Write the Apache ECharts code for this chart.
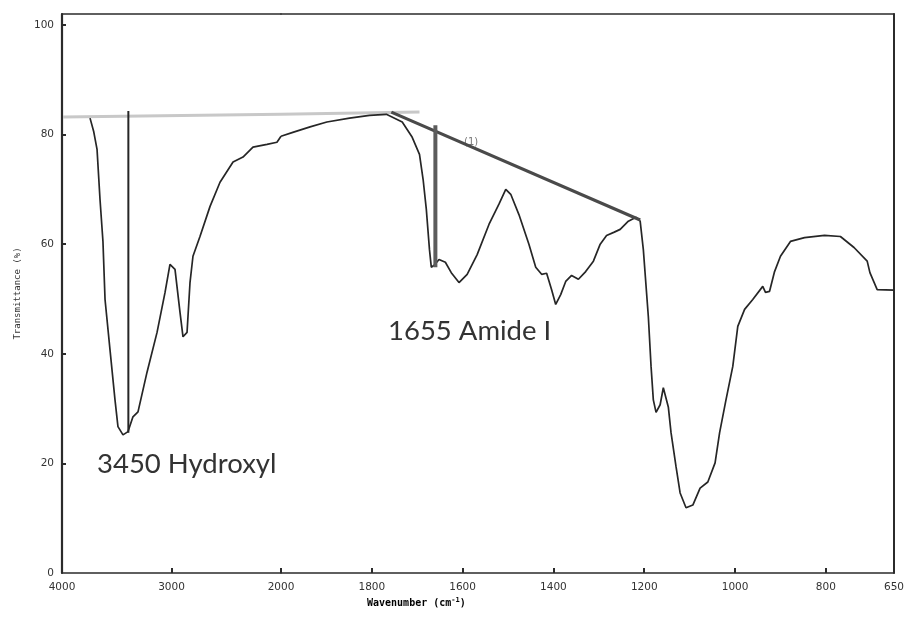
<!DOCTYPE html>
<html><head><meta charset="utf-8">
<script src="https://cdn.jsdelivr.net/npm/echarts@6/dist/echarts.min.js"></script>
<style>html,body{margin:0;padding:0;background:#fff}#c{width:907px;height:617px}</style>
</head><body><div id="c"></div>
<script>
// Spectrum (wavenumber in cm-1, transmittance in %)
const wavenumber = [3744,3710,3680,3653,3626,3607,3562,3516,3489,3443,3397,3352,3306,3224,3132,3059,3014,2968,2922,2895,2858,2831,2804,2740,2648,2557,2438,2347,2256,2128,2037,2000,1974,1936,1899,1849,1805,1768,1733,1711,1695,1687,1680,1673,1669,1662,1652,1638,1625,1608,1590,1568,1542,1520,1505,1494,1476,1454,1439,1426,1415,1404,1395,1384,1373,1360,1345,1329,1312,1297,1283,1266,1253,1235,1218,1209,1202,1191,1185,1180,1174,1165,1158,1147,1141,1130,1121,1108,1093,1077,1060,1044,1034,1020,1005,994,979,961,939,933,924,913,900,878,847,803,768,738,709,703,687,650];
const transmittance = [83.0,80.5,77.3,68.2,60.5,49.9,40.8,31.6,26.7,25.2,25.8,28.5,29.4,36.6,43.9,51.2,56.3,55.4,47.5,43.1,43.9,53.0,57.8,61.4,66.9,71.3,75.0,75.9,77.7,78.2,78.6,79.7,80.4,81.4,82.3,83.0,83.5,83.7,82.3,79.5,76.4,71.8,66.4,59.0,55.8,56.2,57.2,56.7,54.8,53.0,54.5,58.1,63.6,67.3,70.0,69.1,65.4,60.0,55.8,54.5,54.7,51.7,49.0,50.8,53.2,54.3,53.6,55.0,56.9,60.0,61.6,62.2,62.7,64.2,64.9,64.2,59.0,46.8,37.7,31.6,29.3,30.7,33.8,30.3,25.6,19.4,14.6,11.9,12.4,15.5,16.6,20.1,25.6,31.6,37.7,45.0,48.1,49.9,52.3,51.2,51.4,55.0,57.8,60.5,61.2,61.6,61.4,59.4,56.9,54.8,51.7,51.6];

// Tick labels
const yTickValues = [0,20,40,60,80,100];
const xLabelsHigh = [4000,3000,2000];
const xLabelsLow = [1800,1600,1400,1200,1000,800,650];

// Hand-drawn annotation lines (wavenumber, transmittance)
const hydroxylBaselineWn = [3990,2000,1695];
const hydroxylBaselineT  = [83.2,83.7,84.1];
const hydroxylMarkerWn = [3394,3394];
const hydroxylMarkerT  = [84.3,25.6];
const amideBaselineWn = [1757,1209];
const amideBaselineT  = [84.1,64.4];
const amideMarkerWn = [1660,1660];
const amideMarkerT  = [81.7,55.8];

const BREAK = 2000; // axis scale changes at 2000 cm-1
const zip = (a,b) => a.map((v,i) => [v,b[i]]);
const high = (pts) => pts.filter(p => p[0] >= BREAK);
const low  = (pts) => pts.filter(p => p[0] <= BREAK);
const spectrum = zip(wavenumber, transmittance);
const hydroxylBaseline = zip(hydroxylBaselineWn, hydroxylBaselineT);

const axisColor = '#2b2b2b';
const labelStyle = {color:'#333', fontSize:10.5, fontFamily:'DejaVu Sans', formatter:(v) => String(v)};

function xAxisBottom(grid, min, max, labels, ticks){
  return {
    type:'value', gridIndex:grid, min:min, max:max, inverse:true, position:'bottom',
    axisLine:{show:true, onZero:false, lineStyle:{color:axisColor, width:1.6}},
    axisTick:{show:true, inside:true, length:5, customValues:ticks, lineStyle:{color:axisColor, width:2}},
    axisLabel:Object.assign({customValues:labels, margin:9}, labelStyle),
    splitLine:{show:false}
  };
}
function xAxisTop(grid, min, max){
  return {
    type:'value', gridIndex:grid, min:min, max:max, inverse:true, position:'top',
    axisLine:{show:true, onZero:false, lineStyle:{color:axisColor, width:1.6}},
    axisTick:{show:false}, axisLabel:{show:false}, splitLine:{show:false}
  };
}

const chart = echarts.init(document.getElementById('c'), null, {renderer:'canvas'});
chart.setOption({
  animation:false,
  backgroundColor:'#fff',
  grid:[
    {left:62, width:219, top:14, bottom:44},
    {left:281, width:616, top:14, bottom:44}
  ],
  xAxis:[
    xAxisBottom(0, 2000, 4000, xLabelsHigh, [3000,2000]),
    xAxisBottom(1, 650, 2000, xLabelsLow, [1800,1600,1400,1200,1000,800]),
    xAxisTop(0, 2000, 4000),
    xAxisTop(1, 650, 2000)
  ],
  yAxis:[
    {
      type:'value', gridIndex:0, min:0, max:102, position:'left',
      axisLine:{show:true, onZero:false, lineStyle:{color:axisColor, width:2.2}},
      axisTick:{show:true, inside:true, length:4, customValues:yTickValues.slice(1), lineStyle:{color:axisColor, width:2}},
      axisLabel:Object.assign({customValues:yTickValues, margin:8}, labelStyle),
      splitLine:{show:false},
      name:'Transmittance (%)', nameLocation:'middle', nameGap:40, nameRotate:90,
      nameTextStyle:{fontFamily:'DejaVu Sans Mono', fontSize:9, color:'#333'}
    },
    {
      type:'value', gridIndex:1, min:0, max:102, position:'right',
      axisLine:{show:true, onZero:false, lineStyle:{color:axisColor, width:2}},
      axisTick:{show:false}, axisLabel:{show:false}, splitLine:{show:false}
    }
  ],
  series:[
    {type:'line', xAxisIndex:0, yAxisIndex:0, data:high(hydroxylBaseline), showSymbol:false, clip:true,
     lineStyle:{color:'#c8c8c8', width:3}, z:1},
    {type:'line', xAxisIndex:1, yAxisIndex:1, data:low(hydroxylBaseline), showSymbol:false, clip:true,
     lineStyle:{color:'#c8c8c8', width:3}, z:1},
    {type:'line', xAxisIndex:0, yAxisIndex:0, data:high(spectrum), showSymbol:false, clip:true,
     lineStyle:{color:'#262626', width:1.7}, z:3},
    {type:'line', xAxisIndex:1, yAxisIndex:1, data:low(spectrum), showSymbol:false, clip:true,
     lineStyle:{color:'#262626', width:1.7}, z:3},
    {type:'line', xAxisIndex:0, yAxisIndex:0, data:zip(hydroxylMarkerWn, hydroxylMarkerT), showSymbol:false,
     lineStyle:{color:'#262626', width:2}, z:4},
    {type:'line', xAxisIndex:1, yAxisIndex:1, data:zip(amideBaselineWn, amideBaselineT), showSymbol:false,
     lineStyle:{color:'#4a4a4a', width:3.2}, z:4},
    {type:'line', xAxisIndex:1, yAxisIndex:1, data:zip(amideMarkerWn, amideMarkerT), showSymbol:false,
     lineStyle:{color:'#5c5c5c', width:4}, z:4}
  ],
  graphic:[
    {type:'text', left:97, top:450, style:{text:'3450 Hydroxyl', font:'27.5px Lato', fill:'#333'}},
    {type:'text', left:388, top:317, style:{text:'1655 Amide I', font:'27.5px Lato', fill:'#333'}},
    {type:'text', left:464, top:137, style:{text:'(1)', font:'10px DejaVu Sans', fill:'#777'}},
    {type:'text', left:367, top:597, style:{
      text:'{a|Wavenumber (cm}{s|-1}{a|)}',
      rich:{a:{fontFamily:'DejaVu Sans Mono', fontSize:10, fontWeight:'bold', color:'#333'},
            s:{fontFamily:'DejaVu Sans Mono', fontSize:7, fontWeight:'bold', color:'#333', verticalAlign:'top', padding:[0,0,6,0]}}
    }}
  ]
});
</script></body></html>
